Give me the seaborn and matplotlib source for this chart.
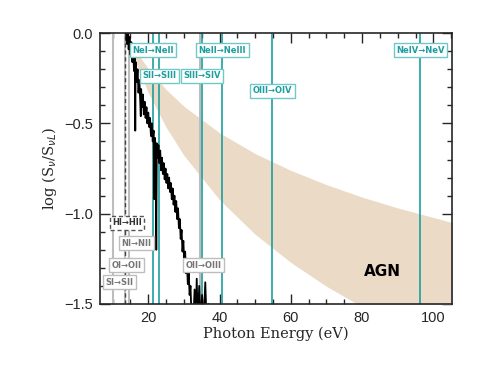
import numpy as np
import pandas as pd
import matplotlib
matplotlib.use('Agg')
import matplotlib.pyplot as plt
from matplotlib.ticker import MultipleLocator
import seaborn as sns

# ── Data ──────────────────────────────────────────────────────────────────────
spec_e = [13.75, 14.0, 14.25, 14.5, 14.75, 15.0, 15.25, 15.5, 15.75, 16.0, 16.25, 16.35,
          16.45, 16.75, 17.0, 17.25, 17.5, 17.75, 17.9, 18.0, 18.25, 18.5, 18.75, 19.0,
          19.25, 19.5, 19.75, 20.0, 20.25, 20.5, 20.75, 21.0, 21.25, 21.5, 21.7, 21.85,
          22.1, 22.25, 22.4, 22.6, 22.85, 23.1, 23.35, 23.6, 23.85, 24.1, 24.35, 24.6,
          24.85, 25.1, 25.35, 25.6, 25.85, 26.1, 26.35, 26.6, 26.85, 27.1, 27.35, 27.6,
          27.85, 28.1, 28.35, 28.6, 28.85, 29.1, 29.35, 29.6, 29.85, 30.1, 30.35, 30.6,
          30.85, 31.1, 31.35, 31.6, 31.85, 32.1, 32.6, 33.0, 33.3, 33.6, 33.9, 34.3,
          34.7, 35.1, 35.5, 36.0, 36.4, 36.9, 37.4]
spec_log = [0.00, -0.06, 0.00, -0.09, -0.02, -0.12, -0.05, -0.16, -0.09, -0.21, -0.13, -0.54,
            -0.16, -0.27, -0.20, -0.33, -0.26, -0.38, -0.46, -0.31, -0.41, -0.34, -0.45, -0.38,
            -0.47, -0.41, -0.50, -0.44, -0.52, -0.47, -0.57, -0.50, -0.60, -0.54, -0.92, -0.58,
            -0.64, -1.20, -0.61, -0.69, -0.62, -0.72, -0.65, -0.76, -0.69, -0.78, -0.72, -0.81,
            -0.75, -0.83, -0.78, -0.86, -0.80, -0.88, -0.83, -0.92, -0.86, -0.95, -0.90, -0.99,
            -0.93, -1.03, -0.97, -1.08, -1.03, -1.14, -1.09, -1.21, -1.15, -1.27, -1.21, -1.33,
            -1.27, -1.39, -1.33, -1.45, -1.40, -1.55, -1.62, -1.42, -1.62, -1.36, -1.62, -1.40,
            -1.62, -1.45, -1.62, -1.38, -1.62, -1.50, -1.62]

band_e  = [13.6, 16.0, 20.0, 25.0, 30.0, 40.0, 50.0, 60.0, 70.0, 80.0, 90.0, 105.5]
band_hi = [0.0, -0.083, -0.197, -0.312, -0.405, -0.552, -0.667, -0.760, -0.839, -0.908, -0.968, -1.050]
band_lo = [0.0, -0.139, -0.330, -0.521, -0.677, -0.923, -1.114, -1.270, -1.402, -1.516, -1.630, -1.760]

# ionisation edges
teal_e   = [21.3, 23.1, 35.1, 40.8, 54.8, 96.4]
teal_lab = ['NeI→NeII', 'SII→SIII', 'SIII→SIV', 'NeII→NeIII', 'OIII→OIV', 'NeIV→NeV']
teal_y   = [-0.095, -0.235, -0.235, -0.095, -0.32, -0.095]

gray_e   = [10.2, 13.6, 14.55, 34.6]
gray_lab = ['SI→SII', 'OI→OII', 'NI→NII', 'OII→OIII']
gray_lx  = [11.9, 13.9, 16.7, 35.6]
gray_y   = [-1.38, -1.285, -1.165, -1.285]

hi_e, hi_lab, hi_lx, hi_y = 13.6, 'HI→HII', 14.0, -1.05

# ── Style ─────────────────────────────────────────────────────────────────────
sns.set_theme(style='ticks')
plt.rcParams.update({
    'font.family': 'DejaVu Sans',
    'xtick.direction': 'in', 'ytick.direction': 'in',
    'xtick.top': True, 'ytick.right': True,
    'xtick.major.size': 7, 'ytick.major.size': 7,
    'xtick.minor.size': 3.5, 'ytick.minor.size': 3.5,
    'xtick.major.width': 1.0, 'ytick.major.width': 1.0,
    'axes.linewidth': 1.2,
})
TEAL = '#1E9E9E'; TEAL_EDGE = '#72C8C8'
GRAY = '#BDBDBD'; GRAY_TXT = '#777777'
TAN = '#EBDBC6'

fig = plt.figure(figsize=(4.91, 3.68), dpi=100)
ax = fig.add_axes([0.204, 0.174, 0.717, 0.736])

ax.fill_between(band_e, band_lo, band_hi, color=TAN, lw=0, zorder=1)

for e in gray_e:
    ax.axvline(e, color=GRAY, lw=1.5, zorder=2)
ax.axvline(hi_e, color='#444444', lw=1.0, ls=(0, (3, 2)), zorder=2)
for e in teal_e:
    ax.axvline(e, color=TEAL, lw=1.2, zorder=3)

spec = pd.DataFrame({'e': spec_e, 'log': spec_log})
sns.lineplot(data=spec, x='e', y='log', ax=ax, color='black', lw=1.3,
             sort=False, estimator=None, zorder=4)

box = dict(boxstyle='square,pad=0.3', fc='white', lw=1.0)
for e, lab, y in zip(teal_e, teal_lab, teal_y):
    ax.text(e, y, lab, ha='center', va='center', fontsize=6, fontweight='bold',
            color=TEAL, bbox=dict(box, ec=TEAL_EDGE), zorder=6)
for e, lab, y in zip(gray_lx, gray_lab, gray_y):
    ax.text(e, y, lab, ha='center', va='center', fontsize=6, fontweight='bold',
            color=GRAY_TXT, bbox=dict(box, ec=GRAY), zorder=6)
ax.text(hi_lx, hi_y, hi_lab, ha='center', va='center', fontsize=6, fontweight='bold',
        color='#333333', bbox=dict(box, ec='#555555', ls=(0, (3, 2))), zorder=6)

ax.text(85.8, -1.32, 'AGN', ha='center', va='center', fontsize=11,
        fontweight='bold', color='black', zorder=6)

ax.set_xlim(6.5, 105.3)
ax.set_ylim(-1.5, 0.0)
ax.xaxis.set_major_locator(MultipleLocator(20))
ax.xaxis.set_minor_locator(MultipleLocator(5))
ax.yaxis.set_major_locator(MultipleLocator(0.5))
ax.yaxis.set_minor_locator(MultipleLocator(0.1))
ax.tick_params(which='both', top=True, right=True, labelsize=10.5, pad=5)
ax.set_yticks([0.0, -0.5, -1.0, -1.5])
ax.set_yticklabels(['0.0', '\u22120.5', '\u22121.0', '\u22121.5'])
for lab in ax.get_xticklabels() + ax.get_yticklabels():
    lab.set_family('Liberation Sans')
ax.set_xlabel('Photon Energy (eV)', family='DejaVu Serif', fontsize=10.5, labelpad=1)
ax.set_ylabel(r'log (S$_\nu$/S$_{\nu L}$)', family='DejaVu Serif', fontsize=10.5, labelpad=4)
for s in ax.spines.values():
    s.set_visible(True)
    s.set_zorder(7)

fig.savefig('out.png', dpi=100)
